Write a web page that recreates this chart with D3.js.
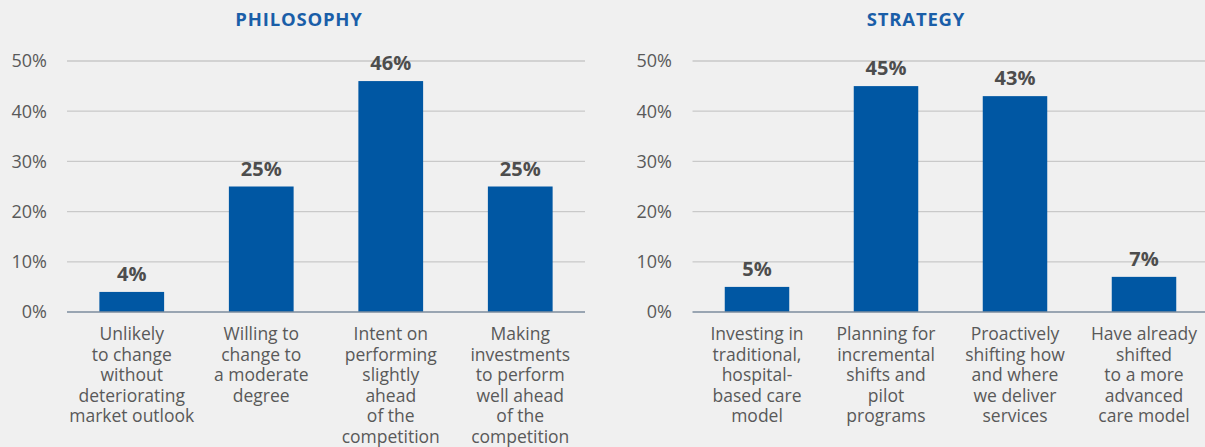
<!DOCTYPE html>
<html>
<head>
<meta charset="utf-8">
<script src="https://cdn.jsdelivr.net/npm/d3@7"></script>
<style>
  html, body { margin: 0; padding: 0; background: #f0f0f0; }
  svg { display: block; }
  text { font-family: "Open Sans", "Noto Sans", sans-serif; }
</style>
</head>
<body>
<svg id="chart" width="1205" height="447"></svg>
<script>
// Survey responses, share of respondents
const philosophyCategories = [
  ["Unlikely", "to change", "without", "deteriorating", "market outlook"],
  ["Willing to", "change to", "a moderate", "degree"],
  ["Intent on", "performing", "slightly", "ahead", "of the", "competition"],
  ["Making", "investments", "to perform", "well ahead", "of the", "competition"]
];
const philosophyValues = [4, 25, 46, 25];

const strategyCategories = [
  ["Investing in", "traditional,", "hospital-", "based care", "model"],
  ["Planning for", "incremental", "shifts and", "pilot", "programs"],
  ["Proactively", "shifting how", "and where", "we deliver", "services"],
  ["Have already", "shifted", "to a more", "advanced", "care model"]
];
const strategyValues = [5, 45, 43, 7];

const yTicks = [0, 10, 20, 30, 40, 50];

const svg = d3.select("#chart");

function panel(opts) {
  const { title, titleX, cats, values, x0, x1, gridEnd, tickX } = opts;
  const g = svg.append("g");

  const y = d3.scaleLinear().domain([0, 50]).range([312, 61]);
  const x = d3.scaleBand()
    .domain(d3.range(values.length))
    .range([x0, x1])
    .paddingInner(0.5)
    .paddingOuter(0.25);

  // title
  g.append("text")
    .attr("x", titleX).attr("y", 26)
    .attr("text-anchor", "middle")
    .attr("font-size", 18.5).attr("font-weight", 700)
    .attr("letter-spacing", 0.8)
    .attr("fill", "#1a5ea8")
    .text(title);

  // gridlines
  g.selectAll("line.grid")
    .data(yTicks.filter(t => t > 0))
    .join("line")
    .attr("x1", x0).attr("x2", gridEnd)
    .attr("y1", d => y(d)).attr("y2", d => y(d))
    .attr("stroke", "#c9c9c9").attr("stroke-width", 1.3);

  // y tick labels
  g.selectAll("text.ytick")
    .data(yTicks)
    .join("text")
    .attr("x", tickX).attr("y", d => y(d))
    .attr("dy", "0.35em")
    .attr("text-anchor", "end")
    .attr("font-size", 18)
    .attr("fill", "#595959")
    .text(d => d + "%");

  // bars
  g.selectAll("rect.bar")
    .data(values)
    .join("rect")
    .attr("x", (d, i) => x(i))
    .attr("width", x.bandwidth())
    .attr("y", d => y(d))
    .attr("height", d => y(0) - y(d))
    .attr("fill", "#0057a3");

  // baseline
  g.append("line")
    .attr("x1", x0).attr("x2", gridEnd)
    .attr("y1", y(0)).attr("y2", y(0))
    .attr("stroke", "#7d8d9e").attr("stroke-width", 1.5);

  // value labels
  g.selectAll("text.val")
    .data(values)
    .join("text")
    .attr("x", (d, i) => x(i) + x.bandwidth() / 2)
    .attr("y", d => y(d) - 11)
    .attr("text-anchor", "middle")
    .attr("font-size", 20).attr("font-weight", 700)
    .attr("fill", "#4d4d4d")
    .text(d => d + "%");

  // category labels
  const lab = g.selectAll("text.cat")
    .data(cats)
    .join("text")
    .attr("text-anchor", "middle")
    .attr("font-size", 17.5)
    .attr("fill", "#595959");
  lab.each(function (lines, i) {
    d3.select(this).selectAll("tspan")
      .data(lines)
      .join("tspan")
      .attr("x", x(i) + x.bandwidth() / 2)
      .attr("y", (d, j) => 340 + j * 20.5)
      .text(d => d);
  });
}

panel({
  title: "PHILOSOPHY", titleX: 299,
  cats: philosophyCategories, values: philosophyValues,
  x0: 67, x1: 585, gridEnd: 585, tickX: 47
});

panel({
  title: "STRATEGY", titleX: 916,
  cats: strategyCategories, values: strategyValues,
  x0: 692.5, x1: 1208.5, gridEnd: 1205, tickX: 672
});
</script>
</body>
</html>
